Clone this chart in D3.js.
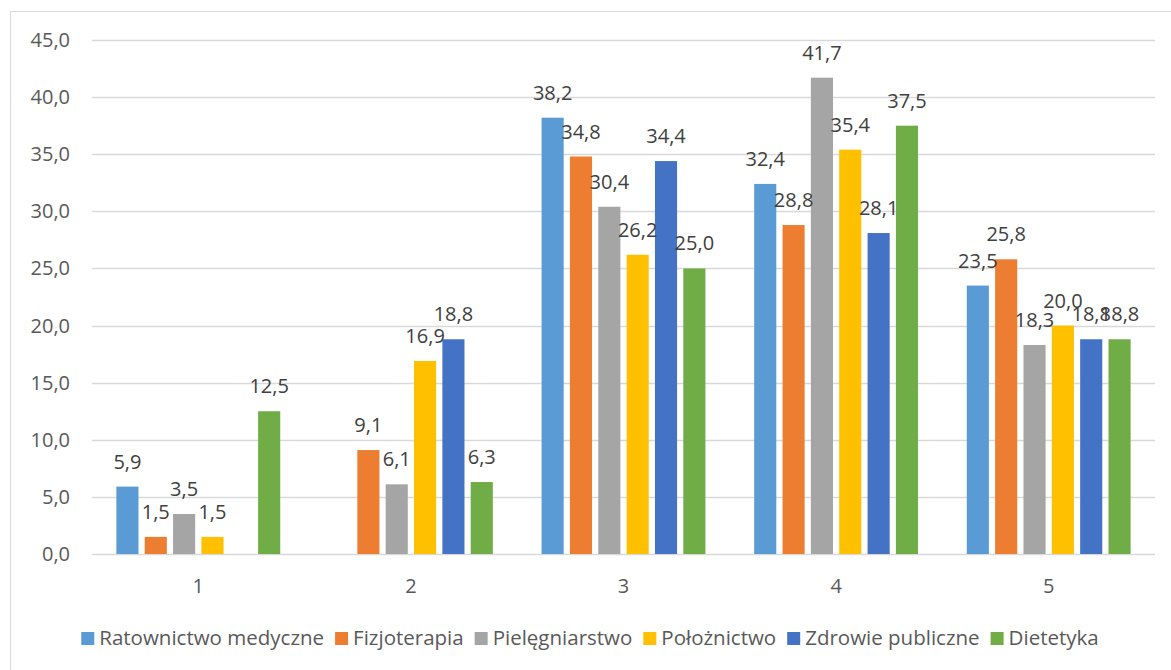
<!DOCTYPE html>
<html>
<head>
<meta charset="utf-8">
<script src="https://cdn.jsdelivr.net/npm/d3@7"></script>
<style>
  body { margin: 0; background: #fff; }
  svg text { font-family: "Open Sans", sans-serif; }
</style>
</head>
<body>
<div class="chart"></div>
<script>
// chart data
var categories = ["1", "2", "3", "4", "5"];
var seriesNames = ["Ratownictwo medyczne", "Fizjoterapia", "Pielęgniarstwo", "Położnictwo", "Zdrowie publiczne", "Dietetyka"];
var seriesColors = ["#5B9BD5", "#ED7D31", "#A5A5A5", "#FFC000", "#4472C4", "#70AD47"];
var ratownictwo = [5.9, null, 38.2, 32.4, 23.5];
var fizjoterapia = [1.5, 9.1, 34.8, 28.8, 25.8];
var pielegniarstwo = [3.5, 6.1, 30.4, 41.7, 18.3];
var poloznictwo = [1.5, 16.9, 26.2, 35.4, 20.0];
var zdrowie = [null, 18.8, 34.4, 28.1, 18.8];
var dietetyka = [12.5, 6.3, 25.0, 37.5, 18.8];
var yTicks = [0, 5, 10, 15, 20, 25, 30, 35, 40, 45];

var seriesValues = [ratownictwo, fizjoterapia, pielegniarstwo, poloznictwo, zdrowie, dietetyka];

var W = 1171, H = 670;
var plot = { left: 92, right: 1155, top: 40, bottom: 554 };
var fontSize = 20;

var svg = d3.select("div.chart").append("svg")
    .attr("width", W)
    .attr("height", H);

// chart border
svg.append("rect")
    .attr("x", 10.5).attr("y", 11.5)
    .attr("width", W).attr("height", H)
    .attr("fill", "none")
    .attr("stroke", "#D9D9D9")
    .attr("stroke-width", 1);

var x0 = d3.scaleBand().domain(categories).range([plot.left, plot.right]);
var bw = x0.bandwidth();
var x1 = d3.scaleBand().domain(seriesNames)
    .range([bw * 0.1, bw * 0.9])
    .paddingInner(0.22)
    .paddingOuter(0.11);
var y = d3.scaleLinear().domain([0, 45]).range([plot.bottom, plot.top]);

var fmt = function(v) { return d3.format(".1f")(v).replace(".", ","); };

// gridlines
svg.append("g").selectAll("line")
    .data(yTicks)
    .enter().append("line")
    .attr("x1", plot.left).attr("x2", plot.right)
    .attr("y1", function(d) { return Math.round(y(d)) + 0.5; })
    .attr("y2", function(d) { return Math.round(y(d)) + 0.5; })
    .attr("stroke", "#D9D9D9")
    .attr("stroke-width", 1.3);

// y axis labels
svg.append("g").selectAll("text")
    .data(yTicks)
    .enter().append("text")
    .attr("x", 70)
    .attr("y", function(d) { return y(d); })
    .attr("dy", "0.35em")
    .attr("text-anchor", "end")
    .attr("fill", "#595959")
    .style("font-size", fontSize + "px")
    .text(fmt);

// category labels
svg.append("g").selectAll("text")
    .data(categories)
    .enter().append("text")
    .attr("x", function(d) { return x0(d) + bw / 2; })
    .attr("y", 593)
    .attr("text-anchor", "middle")
    .attr("fill", "#595959")
    .style("font-size", fontSize + "px")
    .text(function(d) { return d; });

// bars + labels
var rows = [];
seriesNames.forEach(function(s, i) {
    categories.forEach(function(c, j) {
        var v = seriesValues[i][j];
        if (v !== null) rows.push({ series: s, cat: c, value: v, color: seriesColors[i] });
    });
});

svg.append("g").selectAll("rect")
    .data(rows)
    .enter().append("rect")
    .attr("x", function(d) { return x0(d.cat) + x1(d.series); })
    .attr("y", function(d) { return y(d.value); })
    .attr("width", x1.bandwidth())
    .attr("height", function(d) { return y(0) - y(d.value); })
    .attr("fill", function(d) { return d.color; });

svg.append("g").selectAll("text")
    .data(rows)
    .enter().append("text")
    .attr("x", function(d) { return x0(d.cat) + x1(d.series) + x1.bandwidth() / 2; })
    .attr("y", function(d) { return y(d.value) - 18; })
    .attr("text-anchor", "middle")
    .attr("fill", "#404040")
    .style("font-size", fontSize + "px")
    .text(function(d) { return fmt(d.value); });

// legend
var legend = svg.append("g");
var items = legend.selectAll("g")
    .data(seriesNames)
    .enter().append("g");
items.append("rect")
    .attr("width", 13).attr("height", 13)
    .attr("y", 632)
    .attr("fill", function(d, i) { return seriesColors[i]; });
items.append("text")
    .attr("x", 18)
    .attr("y", 645)
    .attr("fill", "#595959")
    .style("font-size", "20.5px")
    .text(function(d) { return d; });

var offset = 0, widths = [];
items.each(function() {
    var w = d3.select(this).select("text").node().getComputedTextLength();
    widths.push(18 + w);
});
var total = d3.sum(widths) + 11 * (widths.length - 1);
var start = 590 - total / 2;
items.attr("transform", function(d, i) {
    var t = "translate(" + (start + offset) + ",0)";
    offset += widths[i] + 11;
    return t;
});
</script>
</body>
</html>
